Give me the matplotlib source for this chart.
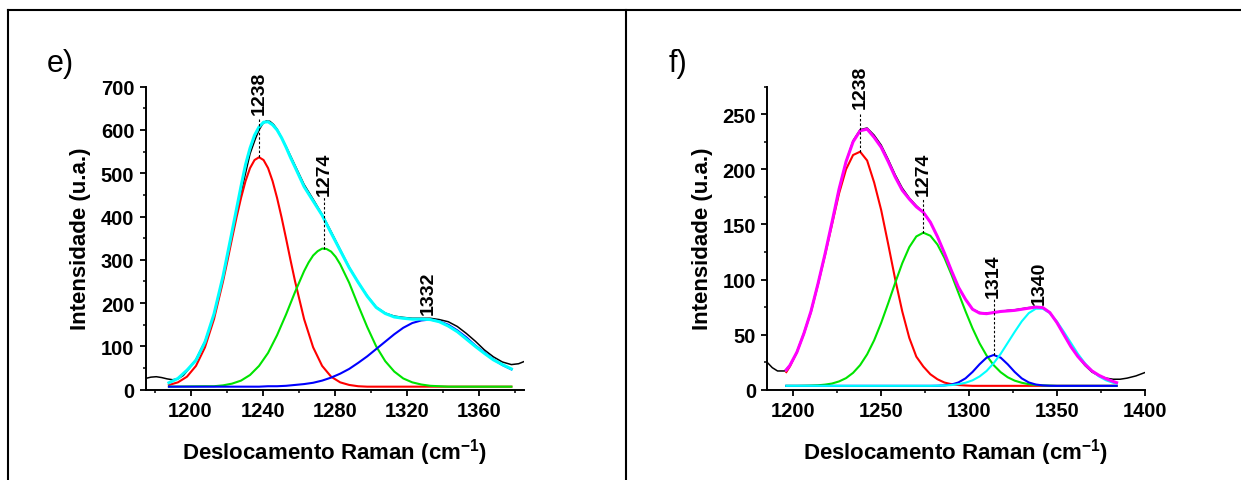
import matplotlib
matplotlib.use("Agg")
import matplotlib.pyplot as plt
from matplotlib.lines import Line2D
from matplotlib.ticker import MultipleLocator

plt.rcParams['font.family'] = ['Liberation Sans', 'DejaVu Sans']
plt.rcParams['font.weight'] = 'bold'
plt.rcParams['axes.labelweight'] = 'bold'
plt.rcParams['mathtext.fontset'] = 'custom'
plt.rcParams['mathtext.rm'] = 'Liberation Sans:bold'
plt.rcParams['mathtext.bf'] = 'Liberation Sans:bold'
plt.rcParams['mathtext.it'] = 'Liberation Sans:bold'

# ---- panel e: measured spectrum ----
e_data_x = [1175, 1178, 1181, 1184, 1187, 1190, 1193, 1196, 1199, 1203, 1208, 1213,
            1218, 1223, 1228, 1233, 1236, 1238, 1240, 1242, 1244, 1246, 1248,
            1253, 1258, 1263, 1268, 1273, 1278, 1283, 1288, 1293, 1298, 1303, 1308,
            1313, 1318, 1323, 1328, 1333, 1338, 1343, 1348, 1353, 1358, 1363, 1368,
            1373, 1378, 1382, 1385]
e_data_y = [26, 29, 30, 28, 25, 23, 25, 33, 48, 70, 112, 170,
            255, 355, 455, 545, 580, 600, 614, 621, 620, 613, 602,
            562, 518, 474, 440, 405, 365, 324, 283, 248, 217, 191, 177,
            170, 167, 165, 165, 165, 162, 157, 146, 130, 112, 92, 76,
            64, 58, 60, 65]

# ---- panel e: fitted components ----
e_red_x = [1188, 1193, 1198, 1203, 1208, 1213, 1218, 1220.5, 1223, 1225.5, 1228,
           1230.5, 1233, 1235.5, 1238, 1240.5, 1243, 1245.5, 1248, 1250.5, 1253,
           1255.5, 1258, 1263, 1268, 1273, 1278, 1283, 1288, 1293, 1298, 1378]
e_red = [11, 17, 30, 55, 98, 163, 250, 298.5, 349, 398, 443,
         482, 512, 530.6, 537, 530.6, 512, 482, 443, 398, 349,
         298.5, 250, 163, 98, 55, 30, 17, 11, 8, 7, 7]

e_green_x = [1188, 1208, 1213, 1218, 1223, 1228, 1233, 1238, 1243, 1248, 1253, 1258,
             1263, 1265.5, 1268, 1270.5, 1273, 1275.5, 1278, 1280.5, 1283, 1288, 1293,
             1298, 1303, 1308, 1313, 1318, 1323, 1328, 1333, 1338, 1343, 1378]
e_green = [7, 8, 8, 10, 14, 21, 34, 55, 85, 126, 174, 226,
           274, 294, 310, 320, 326, 325, 319, 307, 290, 247, 195,
           145, 100, 66, 42, 26, 17, 12, 9, 8, 7, 7]

e_blue_x = [1188, 1193, 1198, 1203, 1208, 1213, 1218, 1223, 1228, 1233, 1238, 1243,
            1248, 1253, 1258, 1263, 1268, 1273, 1278, 1283, 1288, 1293, 1298, 1303,
            1308, 1313, 1318, 1323, 1328, 1333, 1338, 1343, 1348, 1353, 1358, 1363,
            1368, 1373, 1378]
e_blue = [7, 7, 7, 7, 7, 7, 7, 7, 7, 7, 7, 8,
          8, 9, 11, 13, 16, 21, 28, 37, 48, 62, 77, 94,
          111, 128, 143, 154, 160, 162, 158, 150, 137, 121, 102, 86,
          70, 57, 47]

e_fit_x = [1188, 1193, 1198, 1203, 1208, 1213, 1218, 1223, 1228, 1230.5, 1233,
           1235.5, 1238, 1240.5, 1243, 1245.5, 1248, 1250.5, 1253, 1255.5, 1258,
           1263, 1268, 1273, 1278, 1283, 1288, 1293, 1298, 1303, 1308, 1313, 1318,
           1323, 1328, 1333, 1338, 1343, 1348, 1353, 1358, 1363, 1368, 1373, 1378]
e_fit = [16, 26, 45, 68, 110, 175, 262, 365, 470, 520, 558,
         588, 607, 618, 619, 612, 600, 582, 560, 536, 514,
         469, 436, 403, 362, 322, 282, 248, 216, 190, 176, 168, 165,
         163, 163, 162, 157, 147, 134, 117, 100, 84, 69, 58, 48]

e_peaks = [1238, 1274, 1332]
e_peak_tops = [537, 326, 162]
e_label_y = [637, 450, 175]
e_dash_top = [628, 446, None]

# ---- panel f: measured spectrum ----
f_data_x = [1185, 1188, 1191, 1195, 1198, 1202, 1206, 1210, 1214, 1218, 1222, 1226,
            1230, 1234, 1238, 1242, 1246, 1250, 1254, 1258, 1262, 1266, 1270, 1274,
            1278, 1282, 1286, 1290, 1294, 1298, 1302, 1306, 1310, 1314, 1318, 1322,
            1326, 1330, 1334, 1338, 1342, 1346, 1350, 1354, 1358, 1362, 1366, 1370,
            1374, 1378, 1382, 1386, 1390, 1395, 1400]
f_data_y = [25, 20, 17, 17, 22, 34, 51, 71, 96, 123, 152, 182,
            207, 226, 236, 237.5, 231, 222, 209, 195, 183, 174, 167, 161,
            152, 139, 124, 108, 93, 82, 73, 70, 69.5, 70, 71, 72,
            72.5, 73.5, 74.5, 75, 74.5, 70, 61, 50, 39, 30, 22, 16,
            12.5, 10.5, 9.5, 9.5, 10.5, 12.5, 15.5]

# ---- panel f: fitted components ----
f_x = [1196, 1198, 1202, 1206, 1210, 1214, 1218, 1222, 1226, 1230, 1234, 1238, 1242,
       1246, 1250, 1254, 1258, 1262, 1266, 1270, 1274, 1278, 1282, 1286, 1290, 1294,
       1298, 1302, 1306, 1310, 1314, 1318, 1322, 1326, 1330, 1334, 1338, 1342, 1346,
       1350, 1354, 1358, 1362, 1366, 1370, 1374, 1378, 1382, 1384]
f_red = [16, 21, 34, 51, 70.5, 95.5, 122, 150, 178, 200, 213, 216, 208,
         188, 163, 132, 100, 71, 47, 30, 21, 14, 9.5, 6.5, 5, 4.2,
         3.8, 3.5, 3.5, 3.5, 3.5, 3.5, 3.5, 3.5, 3.5, 3.5, 3.5, 3.5, 3.5,
         3.5, 3.5, 3.5, 3.5, 3.5, 3.5, 3.5, 3.5, 3.5, 3.5]
f_green = [3.5, 3.5, 3.5, 3.6, 3.75, 4, 4.6, 5.6, 7.5, 10.5, 15.3, 22.3, 32.1,
           44.9, 60.7, 78.5, 97.1, 114.8, 129.4, 139.1, 142.5, 139.7, 131.8, 119.6, 104.4, 87.8,
           71.2, 55.7, 42.1, 31, 22.3, 15.9, 11.3, 8.2, 6.3, 5, 4.3, 3.9, 3.7,
           3.5, 3.5, 3.5, 3.5, 3.5, 3.5, 3.5, 3.5, 3.5, 3.5]
f_blue = [3.5, 3.5, 3.5, 3.5, 3.5, 3.5, 3.5, 3.5, 3.5, 3.5, 3.5, 3.5, 3.5,
          3.5, 3.5, 3.5, 3.5, 3.5, 3.5, 3.5, 3.5, 3.5, 3.6, 3.9, 4.7, 6.6,
          10.3, 16.1, 23.1, 29.1, 31.5, 29.1, 23.1, 16.1, 10.3, 6.6, 4.7, 3.9, 3.6,
          3.5, 3.5, 3.5, 3.5, 3.5, 3.5, 3.5, 3.5, 3.5, 3.5]
f_cyan = [3.5, 3.5, 3.5, 3.5, 3.5, 3.5, 3.5, 3.5, 3.5, 3.5, 3.5, 3.5, 3.5,
          3.5, 3.5, 3.5, 3.5, 3.5, 3.5, 3.5, 3.5, 3.5, 3.6, 3.8, 4.2, 5,
          6.3, 8.5, 12, 17, 24, 32.5, 42.5, 52.5, 62, 69.5, 73.5, 73.5, 69.5,
          62, 52.5, 42.5, 32.5, 24, 17, 12, 8.5, 6.3, 5.5]
f_fit = [18, 22, 34, 51, 71, 96, 123, 152, 182, 207, 225, 235, 236.5,
         229, 220, 207, 193, 181, 173, 166, 161, 152, 139, 124, 108, 93,
         82, 73, 69.5, 69, 70, 71, 71.5, 72, 73, 74, 75, 74.5, 70,
         61, 50, 39, 30, 23, 17, 13, 10, 7.5, 6.4]

f_peaks = [1238, 1274, 1314, 1340]
f_peak_tops = [216, 142.5, 31.5, 74]
f_label_y = [256, 177, 84, 78]
f_dash_top = [252, 174, 82, None]

W, H = 1241, 481
GREEN = '#00E400'


def style_axes(ax, xlim, ylim, xmaj, xmin, ymaj, ymin):
    ax.set_xlim(*xlim)
    ax.set_ylim(*ylim)
    ax.xaxis.set_major_locator(MultipleLocator(xmaj))
    ax.xaxis.set_minor_locator(MultipleLocator(xmin))
    ax.yaxis.set_major_locator(MultipleLocator(ymaj))
    ax.yaxis.set_minor_locator(MultipleLocator(ymin))
    for side in ('top', 'right'):
        ax.spines[side].set_visible(False)
    for side in ('left', 'bottom'):
        ax.spines[side].set_linewidth(1.4)
    ax.tick_params(which='major', direction='out', length=4, width=1.3,
                   labelsize=14.5, pad=4)
    ax.tick_params(which='minor', direction='out', length=2.3, width=1.1)
    ax.set_xlabel(r'Deslocamento Raman (cm$^{-1}$)', fontsize=16, labelpad=12)
    ax.set_ylabel('Intensidade (u.a.)', fontsize=16, labelpad=7)


def annotate_peaks(ax, peaks, tops, label_y, dash_top):
    for pos, top, ly, dt in zip(peaks, tops, label_y, dash_top):
        if dt is not None:
            ax.plot([pos, pos], [top, dt], color='black', lw=0.8,
                    ls=(0, (2.2, 1.8)), zorder=6)
        ax.text(pos, ly, str(pos), rotation=90, ha='center', va='bottom',
                fontsize=14, fontweight='bold', zorder=7, clip_on=False)


fig = plt.figure(figsize=(W / 100, H / 100), dpi=100)
ax_e = fig.add_axes([145.5 / W, 1 - 390.7 / H, 378.5 / W, 303 / H])
ax_f = fig.add_axes([767 / W, 1 - 390.7 / H, 377.7 / W, 303 / H])

# panel e
ax_e.plot(e_data_x, e_data_y, color='black', lw=1.1, zorder=2)
ax_e.plot(e_red_x, e_red, color='red', lw=1.5, zorder=3)
ax_e.plot(e_green_x, e_green, color=GREEN, lw=1.5, zorder=3)
ax_e.plot(e_blue_x, e_blue, color='blue', lw=1.5, zorder=3)
ax_e.plot(e_fit_x, e_fit, color='cyan', lw=2.2, zorder=4)
style_axes(ax_e, (1175, 1385), (0, 700), 40, 20, 100, 50)
annotate_peaks(ax_e, e_peaks, e_peak_tops, e_label_y, e_dash_top)

# panel f
ax_f.plot(f_data_x, f_data_y, color='black', lw=1.1, zorder=2)
ax_f.plot(f_x, f_red, color='red', lw=1.5, zorder=3)
ax_f.plot(f_x, f_green, color=GREEN, lw=1.5, zorder=3)
ax_f.plot(f_x, f_blue, color='blue', lw=1.5, zorder=3)
ax_f.plot(f_x, f_cyan, color='cyan', lw=1.5, zorder=3)
ax_f.plot(f_x, f_fit, color='magenta', lw=2.2, zorder=4)
style_axes(ax_f, (1185, 1400), (0, 275), 50, 25, 50, 25)
annotate_peaks(ax_f, f_peaks, f_peak_tops, f_label_y, f_dash_top)

# panel letters
fig.text(47 / W, 1 - 72 / H, 'e)', fontsize=22, fontweight='normal', va='baseline')
fig.text(669 / W, 1 - 72 / H, 'f)', fontsize=22, fontweight='normal', va='baseline')

# table-like frame around the two panels
top = 1 - 11 / H
for line in (Line2D([7.5 / W, 1], [top, top]),
             Line2D([7.5 / W, 7.5 / W], [0, top]),
             Line2D([625.7 / W, 625.7 / W], [0, top])):
    line.set_color('black')
    line.set_linewidth(1.5)
    line.set_transform(fig.transFigure)
    fig.add_artist(line)

fig.savefig('out.png', dpi=100)
